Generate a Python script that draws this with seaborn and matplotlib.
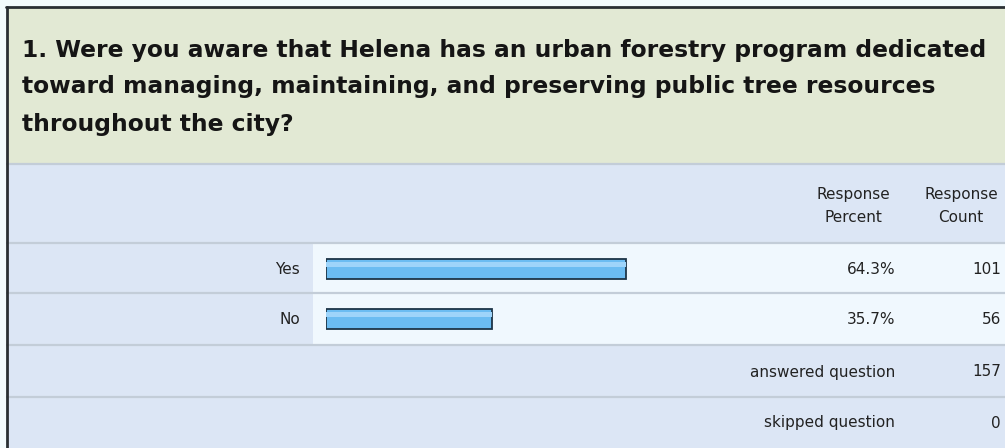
import matplotlib
matplotlib.use("Agg")
import matplotlib.pyplot as plt
import seaborn as sns
import pandas as pd
from matplotlib.patches import Rectangle

# Survey question and responses
question_lines = [
    "1. Were you aware that Helena has an urban forestry program dedicated",
    "toward managing, maintaining, and preserving public tree resources",
    "throughout the city?",
]
answers = ["Yes", "No"]
percents = [64.3, 35.7]
counts = [101, 56]
answered_total = 157
skipped_total = 0

sns.set_theme(style="white")
plt.rcParams["font.family"] = ["DejaVu Sans"]

W, H = 1005, 448
fig = plt.figure(figsize=(W / 100, H / 100), dpi=100)
fig.patch.set_facecolor("#f3fbfd")

# Background canvas in pixel coordinates (y grows downward)
bg = fig.add_axes([0, 0, 1, 1])
bg.set_xlim(0, W)
bg.set_ylim(H, 0)
bg.axis("off")

green = "#e2e9d4"
blue = "#dce6f5"
white = "#f0f8fe"
sep = "#c3cdd8"

def rect(x0, y0, x1, y1, color, z=0):
    bg.add_patch(Rectangle((x0, y0), x1 - x0, y1 - y0, facecolor=color,
                           edgecolor="none", zorder=z))

# Header band with the question
rect(7, 8, W, 164, green)
# Column header row
rect(7, 165, W, 243, blue)
# Answer rows
row_tops = [244, 294]
row_h = 50
for top in row_tops:
    rect(7, top, 313, top + row_h, blue)
    rect(313, top, W, top + row_h, white)
# Summary rows
rect(7, 345, W, 397, blue)
rect(7, 398, W, H, blue)

# Separators
for y in [164.5, 243.5, 293.5, 345, 397.5]:
    bg.plot([7, W], [y, y], color=sep, lw=1.6, zorder=1)

# Outer frame
bg.plot([6.5, 6.5], [7, H], color="#2a2f33", lw=2, zorder=3)
bg.plot([6, W], [7, 7], color="#2a2f33", lw=2, zorder=3)

# Question text
for i, line in enumerate(question_lines):
    bg.text(22, 50 + i * 37, line, fontsize=16.8, fontweight="bold",
            color="#151515", va="center", ha="left")

small = dict(fontsize=11, color="#222222", va="center")
bg.text(853, 194, "Response", ha="center", **small)
bg.text(853, 218, "Percent", ha="center", **small)
bg.text(961, 194, "Response", ha="center", **small)
bg.text(961, 218, "Count", ha="center", **small)

for i, (a, p, c) in enumerate(zip(answers, percents, counts)):
    yc = row_tops[i] + 25
    bg.text(300, yc, a, ha="right", **small)
    bg.text(895, yc, f"{p:.1f}%", ha="right", **small)
    bg.text(1001, yc, f"{c}", ha="right", **small)

bg.text(895, 372, "answered question", ha="right", **small)
bg.text(1001, 372, f"{answered_total}", ha="right", **small)
bg.text(895, 423, "skipped question", ha="right", **small)
bg.text(1001, 423, f"{skipped_total}", ha="right", **small)

# Bar area: 0-100% spans 466 px starting at x=326, rows 244..344
x0_px, full_px = 326, 466
y_top, y_bot = 244, 344
bar_ax = fig.add_axes([x0_px / W, 1 - y_bot / H, full_px / W, (y_bot - y_top) / H])
bar_ax.patch.set_alpha(0)
df = pd.DataFrame({"answer": answers, "percent": percents})
sns.barplot(data=df, x="percent", y="answer", orient="h", ax=bar_ax,
            color="#6bbcf2", width=0.39, edgecolor="#1d3447", linewidth=1.3,
            saturation=1)
bar_ax.set_xlim(0, 100)
bar_ax.set_ylim(1.5, -0.5)
bar_ax.axis("off")

# Soft highlight stripe across each bar
for patch in bar_ax.patches:
    x, y = patch.get_x(), patch.get_y()
    w, h = patch.get_width(), patch.get_height()
    bar_ax.add_patch(Rectangle((x, y + h * 0.12), w, h * 0.3,
                               facecolor="#9ed4fa", edgecolor="none",
                               zorder=patch.get_zorder() + 0.1))

fig.savefig("out.png", dpi=100)
